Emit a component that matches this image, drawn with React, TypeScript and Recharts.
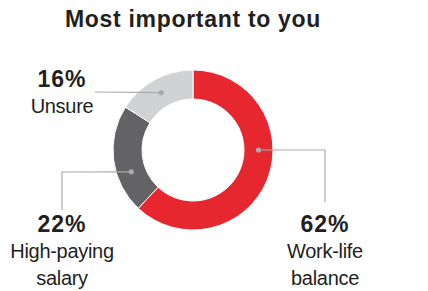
import React from 'react';
import { PieChart, Pie, Cell } from 'recharts';

const categories = ['Work-life balance', 'High-paying salary', 'Unsure'];
const shares = [62, 22, 16];
const labelLines = [['Work-life', 'balance'], ['High-paying', 'salary'], ['Unsure']];

const COLORS = ['#E7272F', '#636366', '#D1D2D4'];
const LEADER = '#A9ABAE';
const INK = '#231F20';
const FONT = '"Liberation Sans", Arial, sans-serif';

// where each leader line starts (angle on the ring) and where its text sits, relative to the centre
const LAYOUT = [
  { angle: 0, path: [[132, 0], [132, 52]], textX: 132, pctY: 82, firstY: 108, below: true },
  { angle: 199.5, path: [[-131, 22], [-131, 60]], textX: -131, pctY: 82, firstY: 108, below: true },
  { angle: 119, path: [[-98, -58]], textX: -131, pctY: -63, firstY: -37, below: false },
];

const RAD = Math.PI / 180;

const renderLabel = (props: any) => {
  const { cx, cy, index, innerRadius, outerRadius } = props;
  const l = LAYOUT[index];
  const r = (innerRadius + outerRadius) / 2;
  const dx = cx + r * Math.cos(l.angle * RAD);
  const dy = cy - r * Math.sin(l.angle * RAD);
  const pts = [[dx, dy], ...l.path.map(([x, y]) => [cx + x, cy + y])];
  const d = pts.map((p, i) => `${i ? 'L' : 'M'}${p[0]},${p[1]}`).join(' ');
  return (
    <g key={`lbl-${index}`}>
      <path d={d} stroke={LEADER} strokeWidth={1.2} fill="none" />
      <circle cx={dx} cy={dy} r={2.6} fill={LEADER} />
      <text x={cx + l.textX} y={cy + l.pctY} textAnchor="middle" fill={INK}
        style={{ fontFamily: FONT, fontWeight: 700, fontSize: 23, letterSpacing: 1 }}>
        {shares[index]}%
      </text>
      {labelLines[index].map((t, i) => (
        <text key={i} x={cx + l.textX} y={cy + l.firstY + i * 27} textAnchor="middle" fill={INK}
          style={{ fontFamily: FONT, fontSize: 20, letterSpacing: -0.3 }}>
          {t}
        </text>
      ))}
    </g>
  );
};

export default function App() {
  const data = categories.map((name, i) => ({ name, value: shares[i] }));
  return (
    <div style={{ position: 'absolute', left: 0, top: 0, width: 428, height: 291, background: '#fff' }}>
      <div style={{ position: 'absolute', left: 0, top: 8, width: 386, textAlign: 'center',
        fontFamily: FONT, fontWeight: 700, fontSize: 23, lineHeight: '23px', letterSpacing: 0.7, color: INK }}>
        Most important to you
      </div>
      <PieChart width={428} height={291} margin={{ top: 0, right: 0, bottom: 0, left: 0 }}>
        <Pie
          data={data}
          dataKey="value"
          nameKey="name"
          cx={193}
          cy={150}
          innerRadius={51}
          outerRadius={80}
          startAngle={90}
          endAngle={-270}
          stroke="#fff"
          strokeWidth={1}
          label={renderLabel}
          labelLine={false}
          isAnimationActive={false}
        >
          {data.map((entry, index) => (
            <Cell key={`cell-${index}`} fill={COLORS[index]} />
          ))}
        </Pie>
      </PieChart>
    </div>
  );
}
